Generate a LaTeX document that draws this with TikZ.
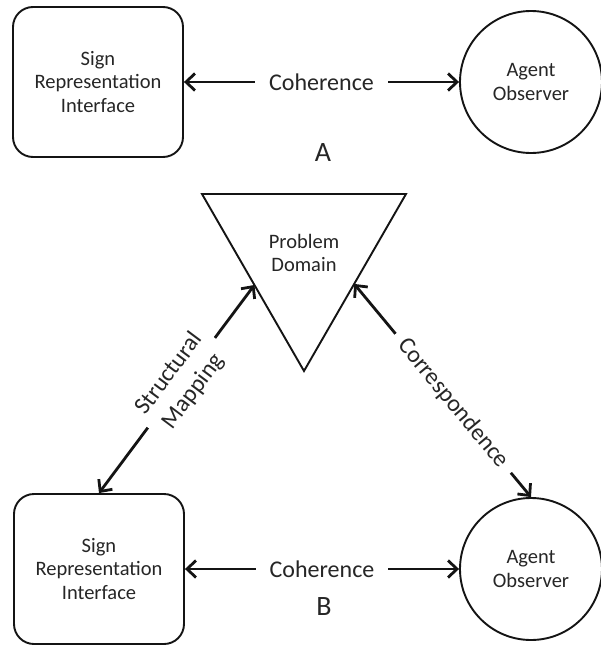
\documentclass[tikz,border=0pt]{standalone}
\usepackage{fontspec}
\setmainfont{Carlito}
\usetikzlibrary{arrows.meta,calc}
\definecolor{txt}{gray}{0.15}
\definecolor{ln}{gray}{0.08}
\begin{document}
\begin{tikzpicture}[x=1pt,y=-1pt,
  every node/.style={text=txt},
  boxnode/.style={draw=ln, line width=1.9pt, rounded corners=20pt, minimum width=170pt, minimum height=150pt, align=center, font=\fontsize{20.5}{23.5}\selectfont},
  circnode/.style={draw=ln, line width=1.9pt, circle, minimum size=142pt, inner sep=0pt, align=center, font=\fontsize{20.5}{24}\selectfont},
  link/.style={draw=ln, line width=2.8pt, {Straight Barb[length=9pt,width=17pt]}-{Straight Barb[length=9pt,width=17pt]}},
  lab/.style={fill=white, font=\fontsize{24}{30}\selectfont, inner xsep=14pt, inner ysep=2pt},
  letter/.style={font=\fontsize{28}{30}\selectfont},
  tri/.style={draw=ln, line width=1.9pt, line join=miter},
  inner/.style={align=center, font=\fontsize{20.5}{23.5}\selectfont},
]
\useasboundingbox (0,0) rectangle (601,646);
\fill[white] (0,0) rectangle (601,646);

% ---------- Part A ----------
\node[boxnode] (sri1) at (98,82) {Sign\\Representation\\Interface};
\node[circnode] (ao1) at (531,82) {Agent\\Observer};
\draw[link] (sri1.east) -- node[lab] (coh1) {Coherence} (ao1.west);
\node[letter] (la) at (323,153) {A};

% ---------- Part B ----------
\coordinate (tl) at (202,194);
\coordinate (tr) at (406,194);
\coordinate (tb) at (304,371);
\draw[tri] (tl) -- (tr) -- (tb) -- cycle;
\node[inner] (pd) at (304,253) {Problem\\Domain};
\coordinate (pl) at ($(tl)!0.514!(tb)$);
\coordinate (pr) at ($(tr)!0.508!(tb)$);

\node[boxnode] (sri2) at (99,569) {Sign\\Representation\\Interface};
\node[circnode] (ao2) at (531,569) {Agent\\Observer};
\draw[link] (sri2.east) -- node[lab] (coh2) {Coherence} (ao2.west);
\node[letter] (lb) at (324,607) {B};

\draw[link] (sri2.north) -- node[lab, sloped, pos=0.53, align=center, inner xsep=8pt] (sm) {Structural\\Mapping} (pl);
\draw[link] (pr) -- node[lab, sloped, pos=0.56, inner xsep=10pt] (cor) {Correspondence} (ao2.north);
\end{tikzpicture}
\end{document}
